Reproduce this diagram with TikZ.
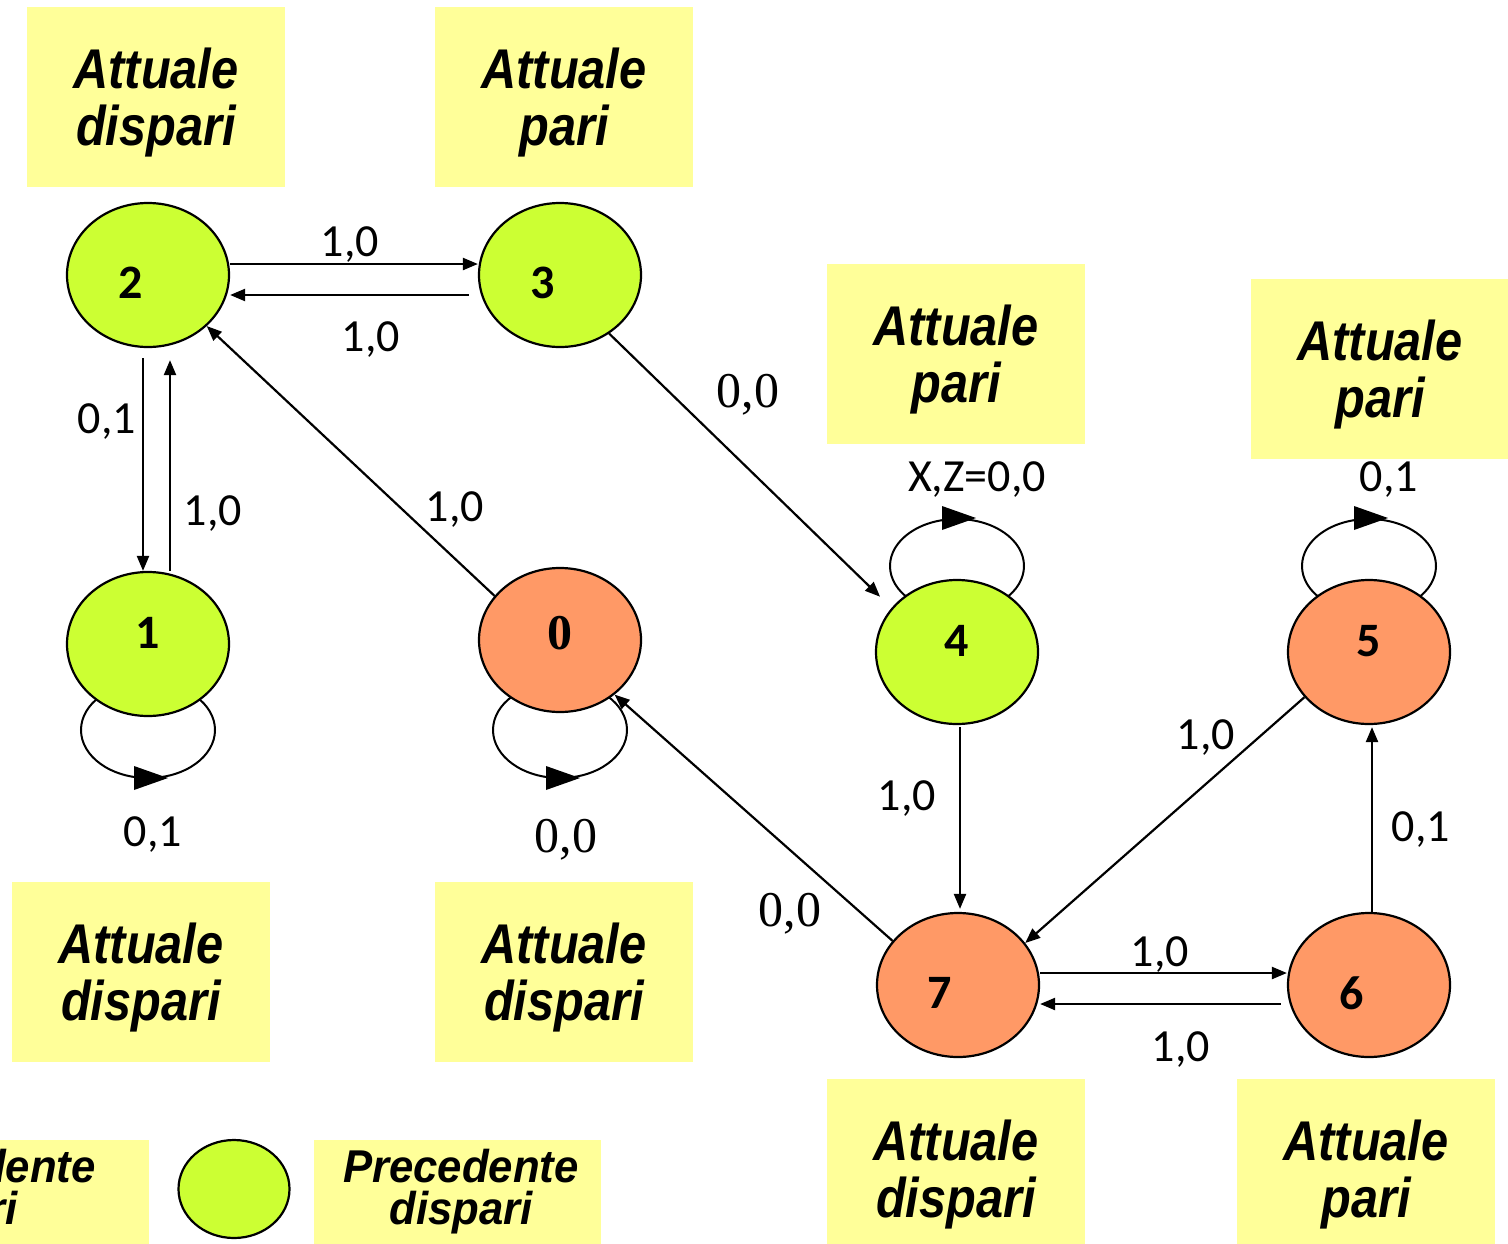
\documentclass[tikz,border=0pt]{standalone}
\usepackage{fontspec}
\usetikzlibrary{arrows.meta,shapes.geometric}
\definecolor{boxyellow}{HTML}{FFFF99}
\definecolor{stgreen}{HTML}{CCFF33}
\definecolor{storange}{HTML}{FF9966}
\newfontfamily\boxfont[FakeStretch=0.87]{Liberation Sans}
\newfontfamily\legfont[FakeStretch=0.95]{Liberation Sans}
\newfontfamily\calfont{Carlito}
\newfontfamily\timesfont{Liberation Serif}

\begin{document}
\begin{tikzpicture}[x=1pt,y=-1pt,
  attbox/.style={fill=boxyellow, minimum width=258pt, minimum height=180pt, inner sep=0pt},
  atttext/.style={align=center, inner sep=0pt,
    font=\boxfont\bfseries\itshape\fontsize{56}{57}\selectfont},
  legtext/.style={align=center, inner sep=0pt,
    font=\legfont\bfseries\itshape\fontsize{46}{42}\selectfont},
  state/.style={ellipse, draw=black, line width=2.2pt, minimum width=162pt,
    minimum height=144pt, inner sep=0pt},
  gstate/.style={state, fill=stgreen},
  ostate/.style={state, fill=storange},
  num/.style={inner sep=0pt, font=\calfont\bfseries\fontsize{48}{48}\selectfont},
  numserif/.style={inner sep=0pt, font=\timesfont\bfseries\fontsize{50}{50}\selectfont},
  lbl/.style={inner sep=0pt, font=\calfont\fontsize{46}{46}\selectfont},
  lblserif/.style={inner sep=0pt, font=\timesfont\fontsize{50}{50}\selectfont},
  trans/.style={line width=2.2pt, -{Triangle[length=15pt,width=12pt]}},
  loopline/.style={line width=2pt},
]
\useasboundingbox (0,0) rectangle (1508,1243);
\clip (0,0) rectangle (1508,1243);

% state description boxes
\node[attbox] (b1) at (156,97)   {};
\node[attbox] (b2) at (564,97)   {};
\node[attbox] (b3) at (956,354)  {};
\node[attbox] (b4) at (1380,369) {};
\node[attbox] (b5) at (141,972)  {};
\node[attbox] (b6) at (564,972)  {};
\node[attbox] (b7) at (956,1169) {};
\node[attbox] (b8) at (1366,1169) {};
\node[atttext] (b1t) at ([yshift=-6pt]b1.center) {Attuale\\dispari};
\node[atttext] (b2t) at ([yshift=-6pt]b2.center) {Attuale\\pari};
\node[atttext] (b3t) at ([yshift=-6pt]b3.center) {Attuale\\pari};
\node[atttext] (b4t) at ([yshift=-6pt]b4.center) {Attuale\\pari};
\node[atttext] (b5t) at ([yshift=-6pt]b5.center) {Attuale\\dispari};
\node[atttext] (b6t) at ([yshift=-6pt]b6.center) {Attuale\\dispari};
\node[atttext] (b7t) at ([yshift=-6pt]b7.center) {Attuale\\dispari};
\node[atttext] (b8t) at ([yshift=-6pt]b8.center) {Attuale\\pari};

% legend
\fill[boxyellow] (-190,1140) rectangle (149,1250);
\node[legtext] (lg1) at (-22,1192) {Precedente\\pari};
\fill[boxyellow] (314,1140) rectangle (601,1250);
\node[legtext] (lg2) at (461,1192) {Precedente\\dispari};
\node[ellipse, draw=black, line width=2.2pt, fill=stgreen, minimum width=111pt,
  minimum height=98pt, inner sep=0pt] (lgc) at (234,1189) {};

% self loops (drawn behind the states)
\draw[loopline] (957,566) ellipse [x radius=67, y radius=47];
\fill (942,506) -- (976,518) -- (942,530) -- cycle;
\draw[loopline] (1369,566) ellipse [x radius=67, y radius=47];
\fill (1354,506) -- (1388,518) -- (1354,530) -- cycle;
\draw[loopline] (148,730) ellipse [x radius=67, y radius=48];
\fill (134,766) -- (168,778) -- (134,790) -- cycle;
\draw[loopline] (560,730) ellipse [x radius=67, y radius=48];
\fill (546,766) -- (580,778) -- (546,790) -- cycle;

% states
\node[gstate] (n2) at (148,275) {};
\node[gstate] (n3) at (560,275) {};
\node[gstate] (n1) at (148,644) {};
\node[ostate] (n0) at (560,640) {};
\node[gstate] (n4) at (957,652) {};
\node[ostate] (n5) at (1369,652) {};
\node[ostate] (n7) at (958,985) {};
\node[ostate] (n6) at (1369,985) {};

\node[num] (t2) at (131,283) {2};
\node[num] (t3) at (543,283) {3};
\node[num] (t1) at (148,633) {1};
\node[numserif] (t0) at (560,633) {0};
\node[num] (t4) at (957,641) {4};
\node[num] (t5) at (1369,641) {5};
\node[num] (t7) at (940,993) {7};
\node[num] (t6) at (1352,993) {6};

% transitions
\draw[trans] ([yshift=11pt]n2.east) -- ([yshift=11pt]n3.west);
\draw[trans, shorten <=9pt] ([yshift=-20pt]n3.west) -- ([yshift=-20pt]n2.east);
\draw[trans, shorten <=10pt] ([xshift=-5pt]n2.south) -- ([xshift=-5pt]n1.north);
\draw[trans, shorten >=12pt] ([xshift=22pt]n1.north) -- ([xshift=22pt]n2.south);
\draw[trans] (n0.146) -- (n2.-41);
\draw[trans, shorten >=16pt] (n3.-50) -- (n4.146);
\draw[trans, shorten <=2pt, shorten >=3pt] ([xshift=3pt]n4.south) -- ([xshift=2pt]n7.north);
\draw[trans] (n7.146) -- (n0.-45);
\draw[trans] (n5.215) -- (n7.32);
\draw[trans, shorten >=2pt] ([xshift=3pt]n6.north) -- ([xshift=3pt]n5.south);
\draw[trans] ([yshift=12pt]n7.east) -- ([yshift=12pt]n6.west);
\draw[trans, shorten <=6pt] ([yshift=-19pt]n6.west) -- ([yshift=-19pt]n7.east);

% transition labels
\node[lbl] (l23) at (350,245) {1,0};
\node[lbl] (l32) at (371,340) {1,0};
\node[lbl] (l21) at (107,422) {0,1};
\node[lbl] (l12) at (213,514) {1,0};
\node[lbl] (l02) at (455,510) {1,0};
\node[lblserif] (l34) at (748,395) {0,0};
\node[lbl] (l44) at (977,480) {X,Z=0,0};
\node[lbl] (l55) at (1389,480) {0,1};
\node[lbl] (l11) at (153,835) {0,1};
\node[lblserif] (l00) at (566,840) {0,0};
\node[lbl] (l47) at (907,799) {1,0};
\node[lblserif] (l70) at (790,914) {0,0};
\node[lbl] (l57) at (1206,738) {1,0};
\node[lbl] (l65) at (1421,830) {0,1};
\node[lbl] (l76) at (1160,955) {1,0};
\node[lbl] (l67) at (1181,1050) {1,0};
\end{tikzpicture}
\end{document}
